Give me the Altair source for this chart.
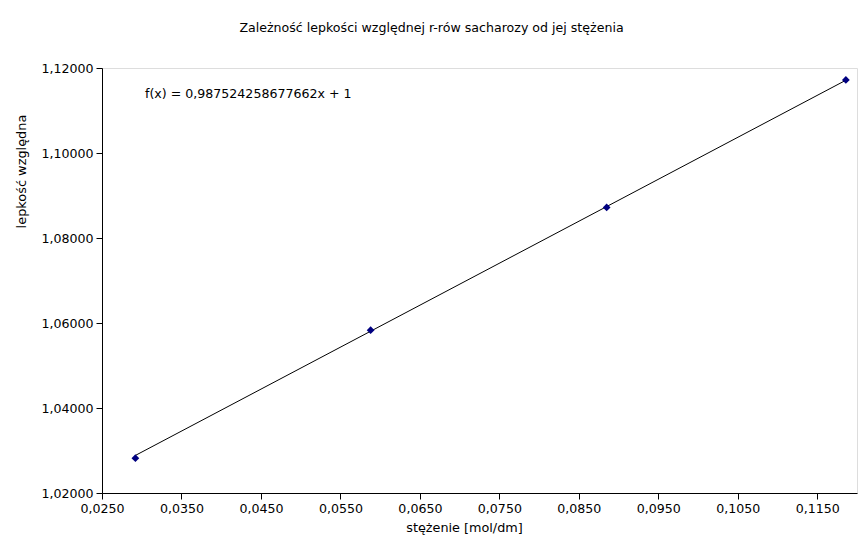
import altair as alt
import pandas as pd

# data
conc = [0.0292, 0.0588, 0.0885, 0.1186]
visc = [1.0282, 1.0583, 1.0872, 1.1172]
slope = 0.987524258677662
intercept = 1.0
x_ticks = [0.025, 0.035, 0.045, 0.055, 0.065, 0.075, 0.085, 0.095, 0.105, 0.115]
y_ticks = [1.02, 1.04, 1.06, 1.08, 1.10, 1.12]
title_text = "Zależność lepkości względnej r-rów sacharozy od jej stężenia"
eq_text = "f(x) = 0,987524258677662x + 1"

pts = pd.DataFrame({"x": conc, "y": visc})
fit = pd.DataFrame({"x": [min(conc), max(conc)]})
FONT = "DejaVu Sans"
FS = 12.6

xscale = alt.Scale(domain=[0.025, 0.12], nice=False, zero=False)
yscale = alt.Scale(domain=[1.02, 1.12], nice=False, zero=False)

xaxis = alt.Axis(
    values=x_ticks, grid=False, domainColor="black", tickColor="black",
    tickSize=6, labelColor="black", labelFont=FONT, labelFontSize=FS,
    labelExpr="replace(format(datum.value, '.4f'), '.', ',')",
    title="stężenie [mol/dm]", titleFont=FONT, titleFontSize=12.8,
    titleFontWeight="normal", titleColor="black",
    titleX=362, titleY=34, titleBaseline="middle", titleAnchor="middle",
    labelPadding=3, labelFlush=False, labelOverlap=False,
)
yaxis = alt.Axis(
    values=y_ticks, grid=False, domainColor="black", tickColor="black",
    tickSize=6, labelColor="black", labelFont=FONT, labelFontSize=FS,
    labelExpr="replace(format(datum.value, '.5f'), '.', ',')",
    title="lepkość względna", titleFont=FONT, titleFontSize=12.9,
    titleFontWeight="normal", titleColor="black",
    titleX=-81, titleY=103, titleAngle=-90, titleBaseline="middle",
    titleAlign="center", labelPadding=3, labelFlush=False, labelOverlap=False,
)

line = alt.Chart(fit).transform_calculate(
    y=f"{slope} * datum.x + {intercept}"
).mark_line(color="black", strokeWidth=1).encode(
    x=alt.X("x:Q", scale=xscale, axis=xaxis),
    y=alt.Y("y:Q", scale=yscale, axis=yaxis),
)

points = alt.Chart(pts).mark_point(
    shape="diamond", filled=True, color="#000080", size=60, opacity=1
).encode(
    x=alt.X("x:Q", scale=xscale),
    y=alt.Y("y:Q", scale=yscale),
)

eq = alt.Chart(pd.DataFrame({"t": [eq_text]})).mark_text(
    align="left", baseline="middle", font=FONT, fontSize=FS, color="black"
).encode(x=alt.value(43), y=alt.value(26), text="t:N")

chart = alt.layer(line, points, eq).properties(
    width=755, height=425,
    title=alt.Title(title_text, font=FONT, fontSize=FS, fontWeight="normal",
                    color="black", anchor="middle", dx=-48, offset=27),
    padding={"left": 94, "top": 60, "right": 2, "bottom": 48},
    autosize=alt.AutoSizeParams(type="none"),
).configure_view(stroke=None).configure(background="white")

chart.save("out.html", embed_options={"renderer": "svg", "actions": False})
